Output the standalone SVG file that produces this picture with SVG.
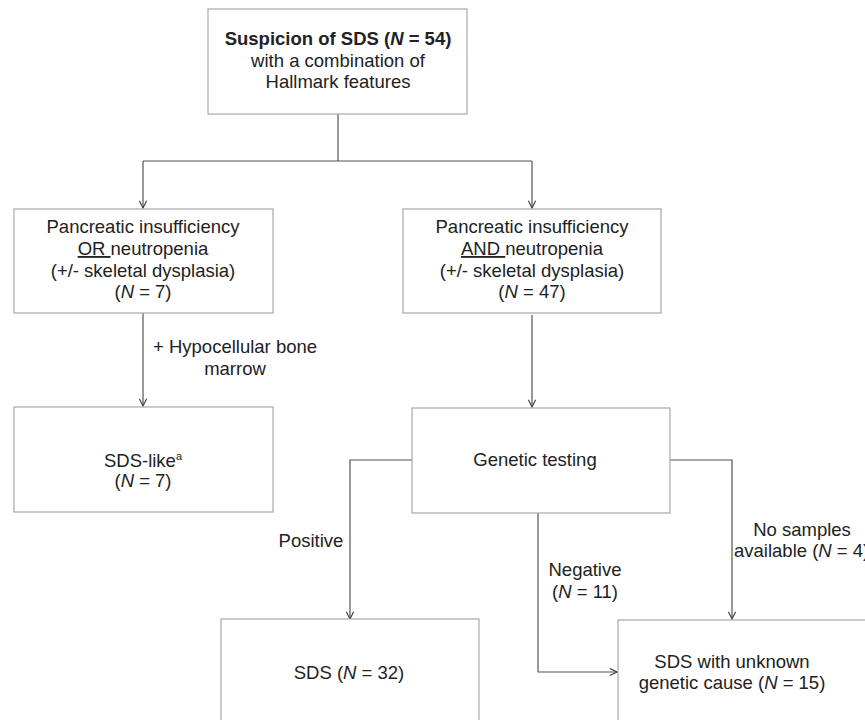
<svg xmlns="http://www.w3.org/2000/svg" width="865" height="720" viewBox="0 0 865 720">
<style>
.box{fill:#fff;stroke:#a8a8a8;stroke-width:1.2}
.t{font-family:"Liberation Sans",Arial,sans-serif;font-size:18.5px;fill:#222;text-anchor:middle}
.ts{font-family:"Liberation Sans",Arial,sans-serif;font-size:18.5px;fill:#222}
.b{font-weight:bold}
.i{font-style:italic}
.c{fill:none;stroke:#555;stroke-width:1.2}
</style>
<defs>
<marker id="arr" viewBox="0 0 10 10" refX="9" refY="5" markerWidth="9" markerHeight="9" markerUnits="userSpaceOnUse" orient="auto">
<path d="M1,1 L9,5 L1,9" fill="none" stroke="#444" stroke-width="1.3"/>
</marker>
</defs>
<rect width="865" height="720" fill="#fff"/>
<g id="connectors">
<path class="c" d="M338,114 V161"/>
<path class="c" d="M143,161 H532"/>
<path class="c" d="M143,161 V208" marker-end="url(#arr)"/>
<path class="c" d="M532,161 V208" marker-end="url(#arr)"/>
<path class="c" d="M143,313 V406" marker-end="url(#arr)"/>
<path class="c" d="M532,315 V407" marker-end="url(#arr)"/>
<path class="c" d="M412,460 H350 V619" marker-end="url(#arr)"/>
<path class="c" d="M538,513 V672 H617" marker-end="url(#arr)"/>
<path class="c" d="M670,460 H732 V619" marker-end="url(#arr)"/>
<text class="ts" x="153" y="353">+ Hypocellular bone</text>
<text class="t" x="235" y="375">marrow</text>
<text class="t" x="311" y="547">Positive</text>
<text class="t" x="585" y="576">Negative</text>
<text class="t" x="585" y="598">(<tspan class="i">N</tspan> = 11)</text>
<text class="t" x="802" y="536">No samples</text>
<text class="ts" x="734" y="557">available (<tspan class="i">N</tspan> = 4)</text>
</g>
<g id="n-suspicion">
<rect class="box" x="208" y="9" width="259" height="105"/>
<text class="t b" x="338" y="45">Suspicion of SDS (<tspan class="i">N</tspan> = 54)</text>
<text class="t" x="338" y="67">with a combination of</text>
<text class="t" x="338" y="88">Hallmark features</text>
</g>
<g id="n-or">
<rect class="box" x="14" y="209" width="259" height="104"/>
<text class="t" x="143" y="233">Pancreatic insufficiency</text>
<text class="t" x="143" y="255"><tspan text-decoration="underline">OR </tspan>neutropenia</text>
<text class="t" x="143" y="277">(+/- skeletal dysplasia)</text>
<text class="t" x="143" y="298">(<tspan class="i">N</tspan> = 7)</text>
</g>
<g id="n-and">
<rect class="box" x="403" y="209" width="258" height="104"/>
<text class="t" x="532" y="233">Pancreatic insufficiency</text>
<text class="t" x="532" y="255"><tspan text-decoration="underline">AND </tspan>neutropenia</text>
<text class="t" x="532" y="277">(+/- skeletal dysplasia)</text>
<text class="t" x="532" y="298">(<tspan class="i">N</tspan> = 47)</text>
</g>
<g id="n-sdslike">
<rect class="box" x="14" y="407" width="259" height="105"/>
<text class="t" x="143" y="467">SDS-like<tspan font-size="11" dy="-7">a</tspan></text>
<text class="t" x="143" y="487">(<tspan class="i">N</tspan> = 7)</text>
</g>
<g id="n-genetic">
<rect class="box" x="412" y="408" width="258" height="105"/>
<text class="t" x="535" y="466">Genetic testing</text>
</g>
<g id="n-sds">
<rect class="box" x="221" y="619" width="258" height="110"/>
<text class="t" x="349" y="679">SDS (<tspan class="i">N</tspan> = 32)</text>
</g>
<g id="n-unknown">
<rect class="box" x="618" y="620" width="258" height="110"/>
<text class="t" x="732" y="668">SDS with unknown</text>
<text class="t" x="732" y="689">genetic cause (<tspan class="i">N</tspan> = 15)</text>
</g>
</svg>
